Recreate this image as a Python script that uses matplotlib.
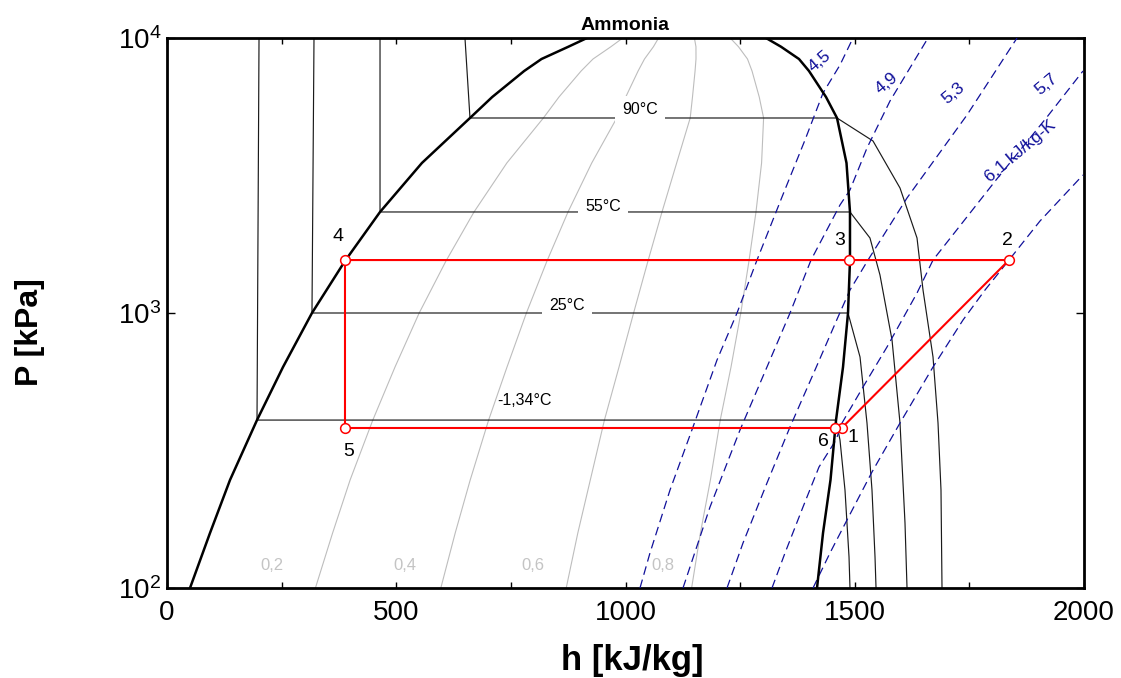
import numpy as np
import matplotlib
matplotlib.use("Agg")
import matplotlib.pyplot as plt
from matplotlib.ticker import MultipleLocator, FixedLocator, NullLocator

# saturation table for ammonia (P in kPa, h in kJ/kg)
sat_P = [100, 158.5, 247, 408, 636, 1000, 1546, 2330, 3512, 5118, 6101, 7586, 8387, 9297, 10000]
sat_hf = [50.2, 93.8, 137.4, 196.3, 253.0, 316.2, 388.2, 464.6, 556.0, 660.8, 709.3, 779.0, 816.8, 875.5, 916.0]
sat_hg = [1417.7, 1430.8, 1447.1, 1459.2, 1474.4, 1485.3, 1489.6, 1489.6, 1482.0, 1461.3, 1437.3, 1400.2, 1378.4, 1339.1, 1306.4]

# isotherms: compressed liquid -> two phase -> superheated vapour
iso_labels = ["-1,34°C", "25°C", "55°C", "90°C"]
iso_h = [
    [200.7, 196.3, 1459.2, 1467.8, 1478.7, 1487.5, 1489.6],
    [320.6, 316.2, 1485.3, 1511.5, 1526.7, 1537.6, 1544.2, 1546.4],
    [464.6, 464.6, 1489.6, 1533.2, 1555.0, 1581.3, 1598.7, 1609.6, 1614.0],
    [649.9, 660.8, 1461.3, 1539.8, 1598.7, 1635.8, 1648.9, 1670.7, 1681.6, 1688.1, 1690.3],
]
iso_P = [
    [10000, 408, 408, 345.4, 227.2, 129.7, 100],
    [10000, 1000, 1000, 691.8, 398.1, 227.2, 129.7, 100],
    [10000, 2330, 2330, 1874, 1375, 797.6, 398.1, 172.3, 100],
    [10000, 5118, 5118, 4222, 2848, 1874, 1212, 691.8, 398.1, 227.2, 100],
]
iso_label_h = [780.8, 872.4, 950.9, 1031.6]
iso_label_P = [482.6, 1069, 2430, 5473]

# lines of constant quality
qualities = [0.2, 0.4, 0.6, 0.8]
quality_text = ["0,2", "0,4", "0,6", "0,8"]
quality_label_h = [228.3, 519.1, 798.3, 1081.8]
quality_label_P = [121.2, 121.2, 121.2, 121.2]

# isentropes, kJ/kg-K
s_labels = ["4,5", "4,9", "5,3", "5,7", "6,1 kJ/kg-K"]
s_h = [
    [1031.6, 1053.4, 1097.1, 1147.2, 1199.6, 1243.2, 1286.8, 1341.3, 1391.5, 1430.8, 1467.8, 1496.2],
    [1125.4, 1184.3, 1249.7, 1315.1, 1358.8, 1404.6, 1467.8, 1489.6, 1526.7, 1576.9, 1659.8],
    [1221.4, 1256.3, 1308.6, 1358.8, 1413.3, 1463.5, 1489.6, 1528.9, 1613.9, 1744.8, 1853.9],
    [1319.5, 1347.9, 1387.1, 1422.0, 1459.1, 1472.2, 1518.0, 1570.3, 1635.8, 1670.7, 1808.1, 1919.3, 1997.8],
    [1409.0, 1446.0, 1483.1, 1537.6, 1598.7, 1670.7, 1736.1, 1784.1, 1836.4, 1904.0, 1997.8],
]
s_P = [
    [100, 134.1, 227.2, 385.0, 674.7, 1000, 1558, 2641, 4257, 6310, 7977, 10000],
    [100, 197.0, 375.4, 674.7, 1000, 1558, 2470, 2801, 3981, 5902, 10000],
    [100, 145.8, 240.9, 385.0, 620.4, 967.1, 1212, 1558, 2619, 5248, 10000],
    [100, 134.1, 197.0, 275.4, 345.4, 398.1, 538.0, 752.1, 1182, 1558, 3045, 5160, 7586],
    [100, 134.1, 176.7, 264.1, 398.1, 636.2, 942.9, 1212, 1558, 2160, 3176],
]
s_label_h = [1424.2, 1569.2, 1714.9, 1918.6, 1860.4]
s_label_P = [8201, 6861, 6310, 6764, 3873]

# refrigeration cycle states 1..6
state_names = ["1", "2", "3", "4", "5", "6"]
state_h = [1471.5, 1836.4, 1488.1, 388.2, 388.2, 1457.6]
state_P = [381.8, 1558, 1558, 1558, 381.8, 381.8]
state_label_h = [1495.4, 1832.4, 1467.2, 373.6, 395.6, 1430.7]
state_label_P = [351.2, 1832, 1832, 1894, 313, 340.4]

plt.rcParams["font.family"] = ["Liberation Sans", "DejaVu Sans"]
blue = "#10109a"

fig = plt.figure(figsize=(11.21, 6.78), dpi=100)
ax = fig.add_axes([167 / 1121, 1 - 588 / 678, 917 / 1121, 550 / 678])
ax.set_yscale("log")

sat_hf = np.array(sat_hf)
sat_hg = np.array(sat_hg)
for x in qualities:
    ax.plot(sat_hf + x * (sat_hg - sat_hf), sat_P, color="#bdbdbd", lw=0.8, zorder=1)
for txt, h, p in zip(quality_text, quality_label_h, quality_label_P):
    ax.text(h, p, txt, color="#c4c4c4", fontsize=12, ha="center", va="center", zorder=1)

for h, p in zip(iso_h, iso_P):
    ax.plot(h, p, color="#1a1a1a", lw=0.85, zorder=2)
for i, (txt, h, p) in enumerate(zip(iso_labels, iso_label_h, iso_label_P)):
    box = None if i == 0 else dict(fc="white", ec="none", pad=5)
    ax.text(h, p, txt, fontsize=11.5, ha="center", va="center", bbox=box, zorder=2.5)

for h, p in zip(s_h, s_P):
    ax.plot(h, p, color=blue, lw=0.9, ls=(0, (7, 4)), zorder=3)
for txt, h, p in zip(s_labels, s_label_h, s_label_P):
    ax.text(h, p, txt, color=blue, fontsize=12.5, rotation=40,
            rotation_mode="anchor", ha="center", va="center", zorder=3)

# saturation dome
ax.plot(sat_hf, sat_P, color="black", lw=1.8, zorder=4)
ax.plot(sat_hg, sat_P, color="black", lw=1.8, zorder=4)

cyc_h = state_h + state_h[:1]
cyc_P = state_P + state_P[:1]
ax.plot(cyc_h, cyc_P, color="red", lw=1.5, zorder=5)
ax.plot(state_h, state_P, ls="none", marker="o", ms=7, mfc="white", mec="red", mew=1.1, zorder=6)
for txt, h, p in zip(state_names, state_label_h, state_label_P):
    ax.text(h, p, txt, fontsize=14, ha="center", va="center", zorder=6)

ax.set_xlim(0, 2000)
ax.set_ylim(100, 10000)
ax.xaxis.set_major_locator(MultipleLocator(500))
ax.xaxis.set_minor_locator(MultipleLocator(250))
ax.yaxis.set_major_locator(FixedLocator([100, 1000, 10000]))
ax.yaxis.set_minor_locator(NullLocator())
ax.tick_params(axis="x", which="both", direction="in", top=True, length=4, width=1, labelsize=20, pad=9)
ax.tick_params(axis="y", which="major", direction="in", right=True, length=6, width=1, labelsize=20, pad=4)
for sp in ax.spines.values():
    sp.set_linewidth(2)

ax.set_xlabel("h [kJ/kg]", fontsize=25, fontweight="bold", va="center")
ax.xaxis.set_label_coords(0.507, -0.131)
ax.set_ylabel("P [kPa]", fontsize=23, fontweight="bold", va="center")
ax.yaxis.set_label_coords(-0.149, 0.465)
ax.set_title("Ammonia", fontsize=14, fontweight="bold", pad=6)

fig.savefig("out.png", dpi=100)
